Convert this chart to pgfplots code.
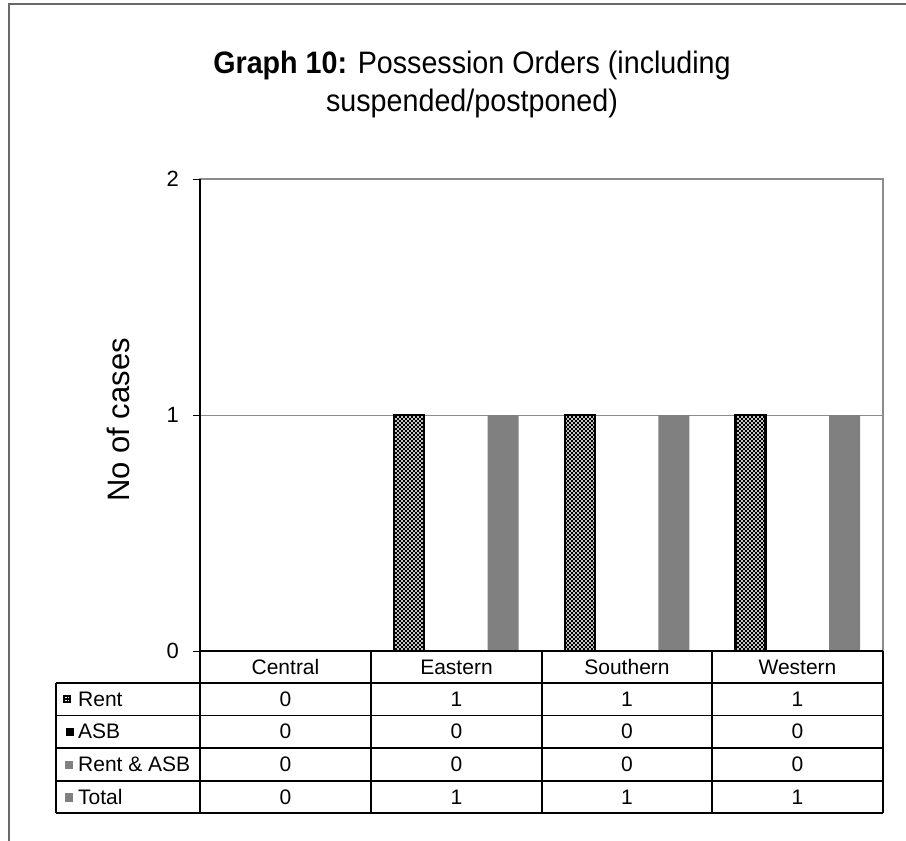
\documentclass[border=0pt]{standalone}
\usepackage{fontspec}
\setmainfont{Liberation Sans}
\usepackage{pgfplots}
\pgfplotsset{compat=1.18}
\usetikzlibrary{patterns}
\definecolor{bargray}{RGB}{128,128,128}
\definecolor{framegray}{RGB}{105,105,105}
\definecolor{plotgray}{RGB}{140,140,140}

\pgfdeclarepatternformonly{mycross}{\pgfqpoint{-1pt}{-1pt}}{\pgfqpoint{5pt}{5pt}}{\pgfqpoint{4pt}{4pt}}{%
  \pgfsetlinewidth{0.8pt}%
  \pgfpathmoveto{\pgfqpoint{-0.2pt}{-0.2pt}}\pgfpathlineto{\pgfqpoint{4.2pt}{4.2pt}}%
  \pgfpathmoveto{\pgfqpoint{-0.2pt}{4.2pt}}\pgfpathlineto{\pgfqpoint{4.2pt}{-0.2pt}}%
  \pgfusepath{stroke}}

\pgfplotstableread{
x Rent ASB RentASB Total
0 0 0 0 0
1 1 0 0 1
2 1 0 0 1
3 1 0 0 1
}\datatable

\begin{document}
\begin{tikzpicture}[x=1pt,y=1pt]
\path[use as bounding box] (0,0) rectangle (906,-841);
% outer frame
\draw[framegray, line width=1.5pt] (9,-845) -- (9,-4) -- (910,-4);
% title
\node[anchor=base, inner sep=0pt, font=\fontsize{31}{36}\selectfont] at (472,-73) {\scalebox{0.925}[1]{\textbf{Graph 10:} Possession Orders (including}};
\node[anchor=base, inner sep=0pt, font=\fontsize{31}{36}\selectfont] at (472,-111) {\scalebox{0.925}[1]{suspended/postponed)}};
\begin{axis}[
  at={(200pt,-651pt)}, anchor=south west,
  scale only axis, width=683pt, height=472pt,
  xmin=-0.5, xmax=3.5, ymin=0, ymax=2,
  ytick={0,1,2}, xtick=\empty,
  ytick pos=left, tick align=outside, major tick length=7pt,
  ytick style={black, line width=1pt},
  ymajorgrids, grid style={plotgray, line width=1pt},
  axis line style={plotgray, line width=1.2pt},
  yticklabel={\fontsize{22}{26}\selectfont\pgfmathprintnumber{\tick}},
  yticklabel style={anchor=east, inner sep=0pt, xshift=-14pt},
  /pgf/number format/assume math mode=true,
  clip=false,
]
\addplot[ybar, bar width=30pt, bar shift=-47pt, draw=black, line width=2.6pt, pattern=mycross, pattern color=black] table[x=x, y=Rent] {\datatable};
\addplot[ybar, bar width=31pt, bar shift=-15.67pt, draw=none, fill=black] table[x=x, y=ASB] {\datatable};
\addplot[ybar, bar width=31pt, bar shift=15.67pt, draw=none, fill=bargray] table[x=x, y=RentASB] {\datatable};
\addplot[ybar, bar width=31pt, bar shift=47pt, draw=none, fill=bargray] table[x=x, y=Total] {\datatable};
\end{axis}
% black left and bottom axis lines
\draw[black, line width=1.3pt] (200,-179) -- (200,-651) -- (883,-651);
% y label
\node[rotate=90, anchor=base, inner sep=0pt, font=\fontsize{31}{36}\selectfont] at (129,-420) {No of cases};
% data table
\begin{scope}[line width=1.2pt, black]
\foreach \yy in {683,715.5,748,781,813} \draw (56,-\yy) -- (883,-\yy);
\draw (56,-683) -- (56,-813);
\foreach \xx in {200,371,542,712,883} \draw (\xx,-651) -- (\xx,-813);
\end{scope}
\begin{scope}[font=\fontsize{21}{25}\selectfont]
\node at (285.5,-667) {Central};
\node at (456.5,-667) {Eastern};
\node at (627,-667) {Southern};
\node at (797.5,-667) {Western};
% Rent row
\node at (285.5,-699) {0};
\node at (456.5,-699) {1};
\node at (627,-699) {1};
\node at (797.5,-699) {1};
% ASB row
\node at (285.5,-731.5) {0};
\node at (456.5,-731.5) {0};
\node at (627,-731.5) {0};
\node at (797.5,-731.5) {0};
% Rent & ASB row
\node at (285.5,-764.5) {0};
\node at (456.5,-764.5) {0};
\node at (627,-764.5) {0};
\node at (797.5,-764.5) {0};
% Total row
\node at (285.5,-797) {0};
\node at (456.5,-797) {1};
\node at (627,-797) {1};
\node at (797.5,-797) {1};
% legend column
\fill[black] (63,-694.5) rectangle (71,-703);
\fill[white] (65.2,-696.7) rectangle (66.5,-698);
\fill[white] (67.5,-699.5) rectangle (68.8,-700.8);
\fill[white] (65.2,-699.5) rectangle (66.5,-700.8);
\fill[white] (67.5,-696.7) rectangle (68.8,-698);
\node[anchor=west, inner sep=0pt] at (78,-699) {Rent};
\fill[black] (65.5,-727.5) rectangle (74,-736);
\node[anchor=west, inner sep=0pt] at (78,-731.5) {ASB};
\fill[bargray] (64.5,-760.5) rectangle (73,-769);
\node[anchor=west, inner sep=0pt] at (78,-764.5) {Rent \& ASB};
\fill[bargray] (64.5,-793) rectangle (73,-801.5);
\node[anchor=west, inner sep=0pt] at (78,-797) {Total};
\end{scope}
\end{tikzpicture}
\end{document}
